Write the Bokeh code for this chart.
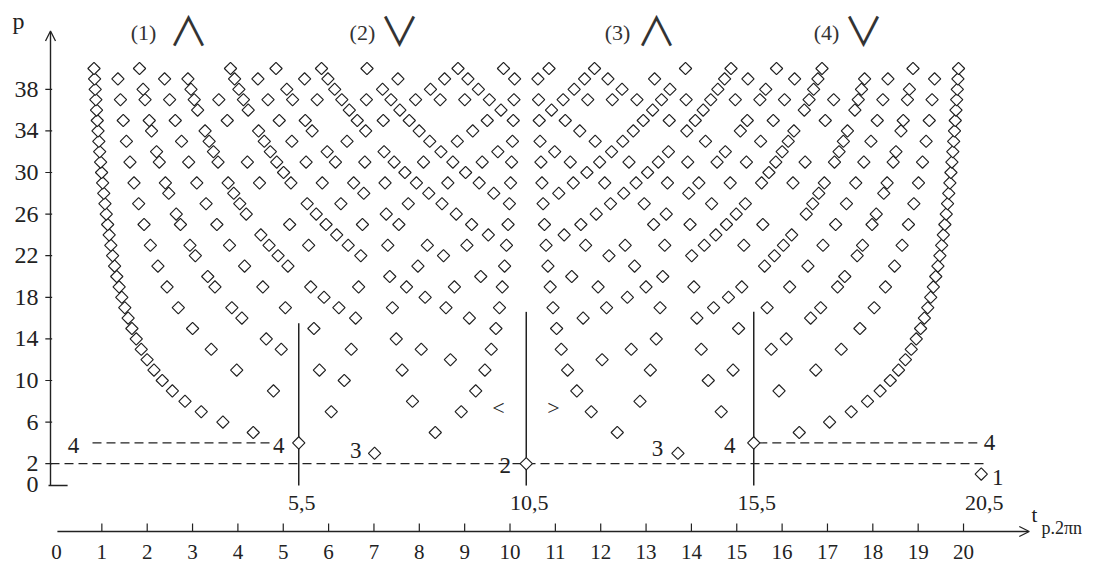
import numpy as np
from bokeh.plotting import figure
from bokeh.models import Range1d, ColumnDataSource, Arrow, OpenHead, Label
from bokeh.core.properties import value
from bokeh.embed import file_html
from bokeh.resources import INLINE

# Orders p of the periodic solutions (rows of the diagram)
orders = list(range(1, 41))

# For each order p: numerators k of the reduced fractions k/p present on that row
numerators = [
    [1],
    [1],
    [1, 2],
    [1, 3],
    [1, 2, 3, 4],
    [1, 5],
    [1, 2, 3, 4, 5, 6],
    [1, 3, 5, 7],
    [1, 2, 4, 5, 7, 8],
    [1, 3, 7, 9],
    [1, 2, 3, 4, 5, 6, 7, 8, 9, 10],
    [1, 5, 7, 11],
    [1, 2, 3, 4, 5, 6, 7, 8, 9, 10, 11, 12],
    [1, 3, 5, 9, 11, 13],
    [1, 2, 4, 7, 8, 11, 13, 14],
    [1, 3, 5, 7, 9, 11, 13, 15],
    [1, 2, 3, 4, 5, 6, 7, 8, 9, 10, 11, 12, 13, 14, 15, 16],
    [1, 5, 7, 11, 13, 17],
    [1, 2, 3, 4, 5, 6, 7, 8, 9, 10, 11, 12, 13, 14, 15, 16, 17, 18],
    [1, 3, 7, 9, 11, 13, 17, 19],
    [1, 2, 4, 5, 8, 10, 11, 13, 16, 17, 19, 20],
    [1, 3, 5, 7, 9, 13, 15, 17, 19, 21],
    [1, 2, 3, 4, 5, 6, 7, 8, 9, 10, 11, 12, 13, 14, 15, 16, 17, 18, 19, 20, 21, 22],
    [1, 5, 7, 11, 13, 17, 19, 23],
    [1, 2, 3, 4, 6, 7, 8, 9, 11, 12, 13, 14, 16, 17, 18, 19, 21, 22, 23, 24],
    [1, 3, 5, 7, 9, 11, 15, 17, 19, 21, 23, 25],
    [1, 2, 4, 5, 7, 8, 10, 11, 13, 14, 16, 17, 19, 20, 22, 23, 25, 26],
    [1, 3, 5, 9, 11, 13, 15, 17, 19, 23, 25, 27],
    [1, 2, 3, 4, 5, 6, 7, 8, 9, 10, 11, 12, 13, 14, 15, 16, 17, 18, 19, 20,
     21, 22, 23, 24, 25, 26, 27, 28],
    [1, 7, 11, 13, 17, 19, 23, 29],
    [1, 2, 3, 4, 5, 6, 7, 8, 9, 10, 11, 12, 13, 14, 15, 16, 17, 18, 19, 20,
     21, 22, 23, 24, 25, 26, 27, 28, 29, 30],
    [1, 3, 5, 7, 9, 11, 13, 15, 17, 19, 21, 23, 25, 27, 29, 31],
    [1, 2, 4, 5, 7, 8, 10, 13, 14, 16, 17, 19, 20, 23, 25, 26, 28, 29, 31, 32],
    [1, 3, 5, 7, 9, 11, 13, 15, 19, 21, 23, 25, 27, 29, 31, 33],
    [1, 2, 3, 4, 6, 8, 9, 11, 12, 13, 16, 17, 18, 19, 22, 23, 24, 26, 27, 29,
     31, 32, 33, 34],
    [1, 5, 7, 11, 13, 17, 19, 23, 25, 29, 31, 35],
    [1, 2, 3, 4, 5, 6, 7, 8, 9, 10, 11, 12, 13, 14, 15, 16, 17, 18, 19, 20,
     21, 22, 23, 24, 25, 26, 27, 28, 29, 30, 31, 32, 33, 34, 35, 36],
    [1, 3, 5, 7, 9, 11, 13, 15, 17, 21, 23, 25, 27, 29, 31, 33, 35, 37],
    [1, 2, 4, 5, 7, 8, 10, 11, 14, 16, 17, 19, 20, 22, 23, 25, 28, 29, 31, 32,
     34, 35, 37, 38],
    [1, 3, 7, 9, 11, 13, 17, 19, 21, 23, 27, 29, 31, 33, 37, 39],
]

# Time span (in units of 2*pi*n) and the half-period shift of the sampling
t_span = 20.0
t_shift = 0.5

# Axis ticks
p_ticks = [0, 2, 6, 10, 14, 18, 22, 26, 30, 34, 38]
t_ticks = list(range(0, 21))

# Boundaries between the four regions and the reference levels
region_t = [5.5, 10.5, 15.5]
region_top = [15.5, 16.6, 16.6]
marked_t = [5.5, 10.5, 15.5, 20.5]
region_names = ["(1)", "(2)", "(3)", "(4)"]
region_signs = ["\u2227", "\u2228", "\u2227", "\u2228"]

FONT = "Liberation Serif"
INK = "#222222"

# ---- points ---------------------------------------------------------------
ts, ps = [], []
for order, ks in zip(orders, numerators):
    for k in ks:
        ts.append(t_span * k / order + t_shift)
        ps.append(order)
points = ColumnDataSource(data=dict(t=ts, p=ps))

p = figure(
    width=1112, height=565,
    x_range=Range1d(-1.05495, 23.3846), y_range=Range1d(-7.788, 46.538),
    x_axis_type=None, y_axis_type=None, min_border=0,
    outline_line_color=None, toolbar_location=None, output_backend="svg",
    background_fill_color="white", border_fill_color="white",
)
# separate scale used by the time axis drawn under the diagram
p.extra_x_ranges = {"taxis": Range1d(-1.2348, 23.285)}
p.xgrid.visible = False
p.ygrid.visible = False

# ---- p axis (vertical, with arrow) ---------------------------------------
y_axis_t = 0.044
p.add_layout(Arrow(end=OpenHead(size=10, line_width=1.3, line_color=INK),
                   x_start=y_axis_t, y_start=-0.1, x_end=y_axis_t, y_end=43.6,
                   line_width=1.4, line_color=INK))
p.segment(x0=[0.0], y0=[-0.1], x1=[0.42], y1=[-0.1], line_color=INK, line_width=1.4)
p.segment(x0=[-0.07] * (len(p_ticks) - 1), x1=[0.08] * (len(p_ticks) - 1),
          y0=p_ticks[1:], y1=p_ticks[1:], line_color=INK, line_width=1.2)
p.text(x=[-0.22] * len(p_ticks), y=p_ticks, text=[str(v) for v in p_ticks],
       text_align="right", text_baseline="middle", text_font=value(FONT),
       text_font_size="24px", text_color=INK)
p.add_layout(Label(x=-0.66, y=44.6, text="p", text_align="center",
                   text_baseline="middle", text_font=FONT,
                   text_font_size="24px", text_color=INK))

# ---- time axis (horizontal, with arrow) -----------------------------------
axis_p = -4.52
p.add_layout(Arrow(end=OpenHead(size=10, line_width=1.3, line_color=INK),
                   x_start=0.02, y_start=axis_p, x_end=21.45, y_end=axis_p,
                   line_width=1.4, line_color=INK, x_range_name="taxis"))
p.segment(x0=t_ticks[1:], x1=t_ticks[1:], y0=[axis_p] * 20, y1=[axis_p + 0.77] * 20,
          line_color=INK, line_width=1.2, x_range_name="taxis")
p.text(x=t_ticks, y=[-6.45] * len(t_ticks), text=[str(v) for v in t_ticks],
       text_align="center", text_baseline="middle", text_font=value(FONT),
       text_font_size="21px", text_color=INK, x_range_name="taxis")
p.add_layout(Label(x=21.5, y=-2.9, text="t", text_align="left",
                   text_baseline="middle", text_font=FONT, text_font_size="21px",
                   text_color=INK, x_range_name="taxis"))
p.add_layout(Label(x=21.72, y=-4.2, text="p.2\u03c0n", text_align="left",
                   text_baseline="middle", text_font=FONT, text_font_size="18px",
                   text_color=INK, x_range_name="taxis"))

# ---- region boundaries and reference levels -------------------------------
p.segment(x0=region_t, x1=region_t, y0=[-0.1] * 3, y1=region_top,
          line_color=INK, line_width=1.5)
p.segment(x0=[0.967, 15.6, 0.044], x1=[4.92, 20.48, 20.59],
          y0=[4, 4, 2], y1=[4, 4, 2],
          line_color=INK, line_width=1.2, line_dash="9 5")

# ---- diamonds -------------------------------------------------------------
p.scatter(x="t", y="p", source=points, marker="square", angle=np.pi / 4,
          size=8.7, fill_color="white", line_color="#1e1e1e", line_width=1.15)

# ---- annotations ----------------------------------------------------------
p.text(x=marked_t, y=[-1.75] * 4,
       text=[f"{v:g}".replace(".", ",") for v in marked_t],
       text_align="center", text_baseline="middle", text_font=value(FONT),
       text_font_size="22px", text_color=INK, x_offset=3)

level_text = ["4", "4", "3", "2", "3", "4", "4", "1"]
level_x = [0.549, 5.06, 6.75, 10.04, 13.385, 14.97, 20.68, 20.86]
level_y = [3.75, 3.75, 3.27, 1.83, 3.46, 3.75, 4.04, 0.67]
p.text(x=level_x, y=level_y, text=level_text, text_align="center",
       text_baseline="middle", text_font=value(FONT), text_font_size="23px",
       text_color=INK)
p.text(x=[9.89, 11.1], y=[7.4, 7.4], text=["<", ">"], text_align="center",
       text_baseline="middle", text_font=value(FONT), text_font_size="22px",
       text_color=INK)

name_x = [2.088, 6.90, 12.505, 17.10]
sign_x = [3.077, 7.714, 13.36, 17.91]
p.text(x=name_x, y=[43.46] * 4, text=region_names, text_align="center",
       text_baseline="middle", text_font=value(FONT), text_font_size="22px",
       text_color="#333333")
p.text(x=sign_x, y=[43.75] * 4, text=region_signs, text_align="center",
       text_baseline="middle", text_font=value("Noto Sans CJK JP"),
       text_font_size="40px", text_color="#333333")

open("out.html", "w").write(file_html(p, INLINE))
